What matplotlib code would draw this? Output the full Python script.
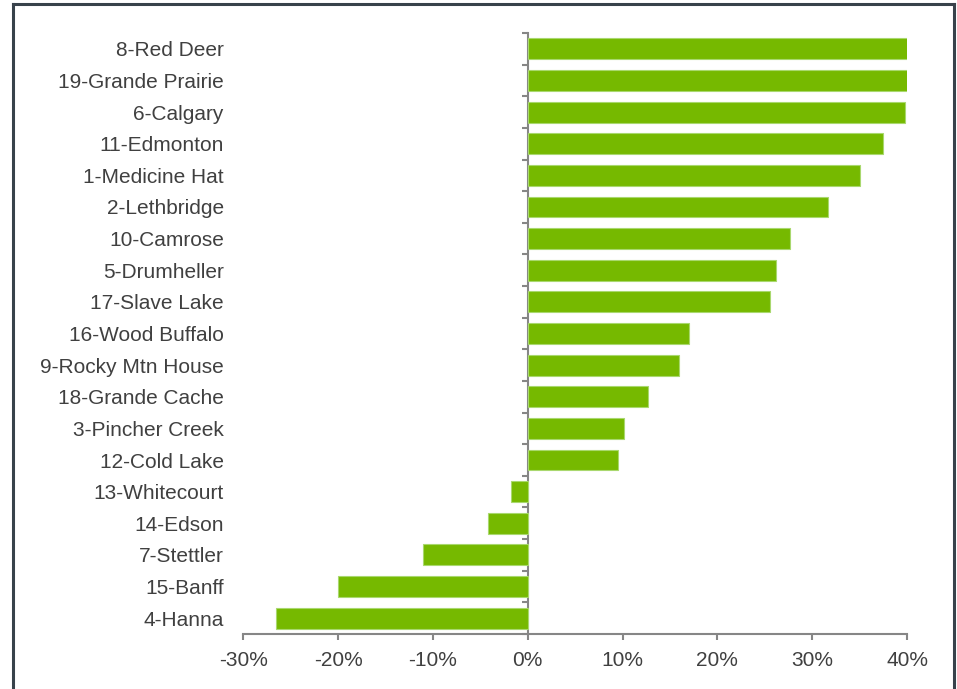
import matplotlib
matplotlib.use("Agg")
import matplotlib.pyplot as plt
from matplotlib.lines import Line2D
from matplotlib.ticker import PercentFormatter
import numpy as np

plt.rcParams['font.family'] = ['Liberation Sans', 'DejaVu Sans']
plt.rcParams['axes.unicode_minus'] = False

# growth by region, % change
regions = ["8-Red Deer", "19-Grande Prairie", "6-Calgary", "11-Edmonton",
           "1-Medicine Hat", "2-Lethbridge", "10-Camrose", "5-Drumheller",
           "17-Slave Lake", "16-Wood Buffalo", "9-Rocky Mtn House",
           "18-Grande Cache", "3-Pincher Creek", "12-Cold Lake",
           "13-Whitecourt", "14-Edson", "7-Stettler", "15-Banff", "4-Hanna"]
change = [40.2, 40.2, 39.8, 37.5, 35.0, 31.7, 27.7, 26.2, 25.6, 17.0,
          15.9, 12.7, 10.2, 9.5, -1.8, -4.2, -11.0, -20.0, -26.5]
xticks = [-30, -20, -10, 0, 10, 20, 30, 40]

bar_color = "#76b900"
axis_gray = "#868686"
text_color = "#404040"

fig = plt.figure(figsize=(9.57, 6.89), dpi=100)
ax = fig.add_axes([0.2542, 0.0798, 0.6936, 0.8723])

y = np.arange(len(regions))
ax.barh(y, change, height=0.66, color=bar_color, edgecolor="#a9d86e", linewidth=0.8, zorder=2)

ax.set_xlim(-30, 40)
ax.set_ylim(len(regions) - 0.5, -0.5)
ax.set_xticks(xticks)
ax.xaxis.set_major_formatter(PercentFormatter(decimals=0))
ax.set_yticks(y)
ax.set_yticklabels(regions)

for s in ["top", "right", "left"]:
    ax.spines[s].set_visible(False)
ax.spines["bottom"].set_color(axis_gray)
ax.spines["bottom"].set_linewidth(1.5)

ax.tick_params(axis="x", colors=axis_gray, length=4, width=1.5, pad=8,
               labelsize=15, labelcolor=text_color)
ax.tick_params(axis="y", length=0, pad=14, labelsize=15, labelcolor=text_color)

# zero line with ticks between categories
zero_axis = ax.secondary_yaxis(30 / 70)
zero_axis.set_yticks(np.arange(-0.5, len(regions), 1.0))
zero_axis.set_yticklabels([])
zero_axis.spines["left"].set_color(axis_gray)
zero_axis.spines["left"].set_linewidth(1.5)
zero_axis.tick_params(axis="y", colors=axis_gray, length=4, width=1.5)

# outer frame on left, top and right
frame = "#38424b"
fig.add_artist(Line2D([13 / 957, 13 / 957], [0, 1 - 4 / 689], transform=fig.transFigure, color=frame, lw=2.2))
fig.add_artist(Line2D([13 / 957, 954 / 957], [1 - 4 / 689, 1 - 4 / 689], transform=fig.transFigure, color=frame, lw=2.2))
fig.add_artist(Line2D([954 / 957, 954 / 957], [0, 1 - 4 / 689], transform=fig.transFigure, color=frame, lw=2.2))

fig.savefig("out.png", dpi=100, facecolor="white")
